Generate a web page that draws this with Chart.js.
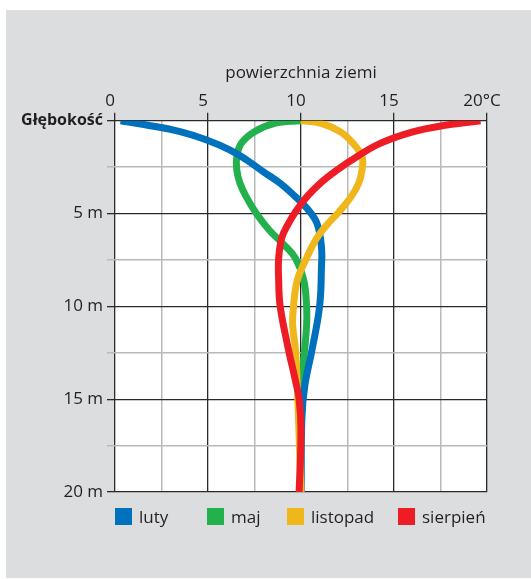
<!DOCTYPE html>
<html>
<head>
<meta charset="utf-8">
<script src="https://cdn.jsdelivr.net/npm/chart.js@4"></script>
<style>
html, body { margin: 0; padding: 0; background: #fff; }
body { width: 531px; height: 579px; position: relative; overflow: hidden; font-family: "Open Sans", sans-serif; }
#panel { position: absolute; left: 6px; top: 10px; width: 525px; height: 568px; background: #dcdddf; }
#chart { position: absolute; left: 0; top: 0; }
.item { position: absolute; top: 508px; height: 17px; display: flex; align-items: center; white-space: nowrap; font-size: 17px; color: #231f20; }
.box { width: 17px; height: 17px; margin-right: 7px; }
</style>
</head>
<body>
<div id="panel"></div>
<canvas id="chart" width="531" height="579"></canvas>
<div id="legend"></div>
<script>
// ---------------- DATA ----------------

const seriesNames = ["luty", "maj", "listopad", "sierpień"];

const lutyTemp  = [0.3, 1.7, 3.5, 4.93, 6.19, 7.09, 7.98, 8.88, 9.6, 10.32, 10.86, 11.1, 11.1, 11.0, 10.6, 10.2, 10.05, 10.0];
const lutyDepth = [0, 0.23, 0.59, 1.04, 1.58, 2.12, 2.75, 3.37, 4.0, 4.72, 5.53, 6.8, 7.9, 10, 12.3, 14.3, 16, 20];

const majTemp  = [10, 8.58, 7.5, 6.79, 6.55, 6.55, 6.72, 7.05, 7.6, 8.3, 9.1, 9.7, 10.15, 10.3, 10.3, 10.2, 10.0, 10.0];
const majDepth = [0, 0.14, 0.59, 1.22, 1.94, 2.66, 3.37, 4.09, 5.0, 5.9, 6.7, 7.4, 8.6, 10, 11, 12.3, 14.3, 20];

const listopadTemp  = [10, 11.08, 12.1, 12.8, 13.28, 13.28, 13.1, 12.7, 12.05, 11.4, 10.8, 10.3, 9.8, 9.6, 9.55, 9.7, 9.8, 9.9, 10];
const listopadDepth = [0, 0.14, 0.59, 1.22, 1.94, 2.66, 3.37, 4.09, 4.9, 5.6, 6.4, 7.4, 8.6, 10, 11, 12.3, 14.3, 17, 20];

const sierpienTemp  = [19.65, 17.85, 16.06, 14.26, 13.0, 11.93, 11.03, 10.32, 9.78, 9.33, 8.97, 8.8, 8.8, 8.88, 9.3, 9.7, 9.9, 10, 9.9];
const sierpienDepth = [0, 0.23, 0.59, 1.22, 1.94, 2.66, 3.37, 4.09, 4.8, 5.53, 6.3, 7.4, 8.6, 10, 12.2, 14, 15, 16.7, 20];

const xTickValues = [0, 5, 10, 15, 20];
const xTickLabels = ["0", "5", "10", "15", "20°C"];
const yTickValues = [0, 5, 10, 15, 20];
const yTickLabels = ["Głębokość", "5 m", "10 m", "15 m", "20 m"];

const xTitle = "powierzchnia ziemi";

// ---------------- STYLE ----------------

const colors = ["#0071bc", "#22b14c", "#efb71b", "#ee1c25"];
const drawOrder = [2, 3, 1, 0];   // red on top, green underneath
const legendLeft = [115, 207, 287, 398];
const textColor = "#231f20";
const fontFamily = "'Open Sans', sans-serif";

const majorGrid = "#2a2a2a";
const minorGrid = "#b9b9b9";

function toPoints(temps, depths){
    return temps.map((t, i) => ({ x: t, y: depths[i] }));
}

const allTemps = [lutyTemp, majTemp, listopadTemp, sierpienTemp];
const allDepths = [lutyDepth, majDepth, listopadDepth, sierpienDepth];

const datasets = seriesNames.map((name, i) => ({
    label: name,
    data: toPoints(allTemps[i], allDepths[i]),
    borderColor: colors[i],
    borderWidth: 7,
    pointRadius: 0,
    fill: false,
    tension: 0.4,
    order: drawOrder[i]
}));

// white plot area
const plotBackground = {
    id: "plotBackground",
    beforeDraw(chart){
        const { ctx, chartArea } = chart;
        ctx.save();
        ctx.fillStyle = "#fff";
        ctx.fillRect(chartArea.left, chartArea.top, chartArea.right - chartArea.left, chartArea.bottom - chartArea.top);
        ctx.restore();
    }
};

function isMajor(v){
    return Math.abs(v % 5) < 1e-6;
}

new Chart(document.getElementById("chart"), {

    type: "line",

    data: { datasets },

    options: {
        responsive: false,
        animation: false,
        indexAxis: "y",
        layout: { padding: { top: 10, left: 0, right: 44, bottom: 87 } },
        plugins: {
            legend: { display: false },
            tooltip: { enabled: false }
        },
        scales: {
            x: {
                type: "linear",
                position: "top",
                min: 0,
                max: 20,
                afterFit(scale){ scale.height = 110.7; },
                border: { display: false },
                grid: {
                    color: c => isMajor(c.tick.value) ? majorGrid : minorGrid,
                    lineWidth: c => isMajor(c.tick.value) ? 1.3 : 1.5,
                    tickColor: c => isMajor(c.tick.value) ? majorGrid : "rgba(0,0,0,0)",
                    tickLength: 8
                },
                ticks: {
                    stepSize: 2.5,
                    autoSkip: false,
                    maxRotation: 0,
                    padding: 1,
                    labelOffset: -5,
                    color: textColor,
                    font: { family: fontFamily, size: 17 },
                    callback: v => {
                        const k = xTickValues.indexOf(v);
                        return k >= 0 ? xTickLabels[k] : "";
                    }
                },
                title: {
                    display: true,
                    text: xTitle,
                    color: textColor,
                    font: { family: fontFamily, size: 17 },
                    padding: { top: 53, bottom: 0 }
                }
            },
            y: {
                type: "linear",
                reverse: true,
                min: 0,
                max: 20,
                afterFit(scale){ scale.width = 115; },
                border: { display: false },
                grid: {
                    color: c => isMajor(c.tick.value) ? majorGrid : minorGrid,
                    lineWidth: c => isMajor(c.tick.value) ? 1.3 : 1.5,
                    tickLength: 8
                },
                ticks: {
                    stepSize: 2.5,
                    autoSkip: false,
                    padding: 4,
                    color: textColor,
                    font: c => (c.tick && c.tick.value === 0)
                        ? { family: fontFamily, size: 16, weight: "bold" }
                        : { family: fontFamily, size: 17 },
                    callback: v => {
                        const k = yTickValues.indexOf(v);
                        return k >= 0 ? yTickLabels[k] : "";
                    }
                }
            }
        }
    },

    plugins: [plotBackground]

});

// ---------------- LEGEND ----------------

const legend = document.getElementById("legend");

seriesNames.forEach((name, i) => {

    const item = document.createElement("div");
    item.className = "item";
    item.style.left = legendLeft[i] + "px";
    item.innerHTML = `<span class="box" style="background:${colors[i]}"></span><span>${name}</span>`;
    legend.appendChild(item);

});
</script>
</body>
</html>
